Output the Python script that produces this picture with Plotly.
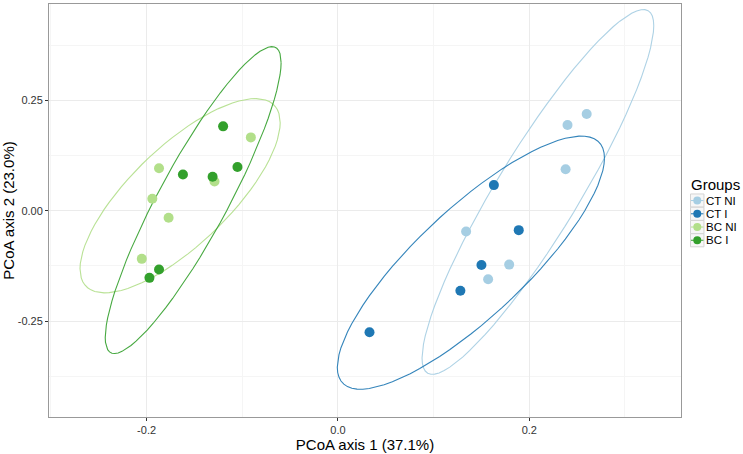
import numpy as np
import plotly.graph_objects as go

# PCoA scores
groups = ["CT NI", "CT I", "BC NI", "BC I"]
colors = ["#A6CEE3", "#1F78B4", "#B2DF8A", "#33A02C"]

ct_ni_x = [0.260, 0.240, 0.238, 0.134, 0.179, 0.157]
ct_ni_y = [0.219, 0.194, 0.094, -0.047, -0.122, -0.155]
ct_i_x = [0.033, 0.163, 0.189, 0.150, 0.128]
ct_i_y = [-0.275, 0.058, -0.044, -0.123, -0.181]
bc_ni_x = [-0.091, -0.187, -0.194, -0.177, -0.129, -0.205]
bc_ni_y = [0.166, 0.096, 0.027, -0.016, 0.066, -0.109]
bc_i_x = [-0.120, -0.162, -0.131, -0.105, -0.187, -0.197]
bc_i_y = [0.191, 0.082, 0.077, 0.099, -0.133, -0.152]

xs = [ct_ni_x, ct_i_x, bc_ni_x, bc_i_x]
ys = [ct_ni_y, ct_i_y, bc_ni_y, bc_i_y]


# same as MASS::cov.trob, which stat_ellipse uses
def cov_trob(x, nu=5, maxit=25, tol=0.01):
    n, p = x.shape
    wt = np.ones(n)
    loc = x.mean(axis=0)
    w = np.sqrt(wt)
    for _ in range(maxit):
        w0 = w
        X = x - loc
        _, d, vt = np.linalg.svd(np.sqrt(w / w.sum())[:, None] * X, full_matrices=False)
        wX = X @ vt.T @ np.diag(1 / d)
        Q = (wX ** 2).sum(axis=1)
        w = wt * (nu + p) / (nu + Q)
        loc = (w[:, None] * x).sum(axis=0) / w.sum()
        if np.all(np.abs(w - w0) < tol):
            break
    X = x - loc
    cov = (np.sqrt(w)[:, None] * X).T @ (np.sqrt(w)[:, None] * X) / wt.sum()
    return loc, cov


def ellipse(x, y, level=0.9, segments=80):
    pts = np.column_stack([x, y])
    center, shape = cov_trob(pts)
    dfd = len(x) - 1
    fq = dfd / 2 * ((1 - level) ** (-2 / dfd) - 1)  # qf(level, 2, dfd)
    radius = np.sqrt(2 * fq)
    ang = np.linspace(0, 2 * np.pi, segments + 1)
    circle = np.column_stack([np.cos(ang), np.sin(ang)])
    chol = np.linalg.cholesky(shape).T
    e = center + radius * circle @ chol
    return e[:, 0], e[:, 1]


W, H = 743, 454
L, R, T, B = 48, 62, 3, 36


def px(x):
    return (x - L) / (W - L - R)


def py(y):
    return (H - B - y) / (H - T - B)


fig = go.Figure()

for g, c, x, y in zip(groups, colors, xs, ys):
    ex, ey = ellipse(x, y)
    fig.add_trace(go.Scatter(
        x=ex, y=ey, mode="lines", line=dict(color=c, width=1.1),
        opacity=0.9, showlegend=False, hoverinfo="skip"
    ))

for g, c, x, y in zip(groups, colors, xs, ys):
    fig.add_trace(go.Scatter(
        x=x, y=y, mode="markers", name=g, showlegend=False,
        marker=dict(color=c, size=10)
    ))

# ggplot-like legend drawn by hand so it fits in the right margin
fig.add_annotation(text="Groups", xref="paper", yref="paper", x=px(690), y=py(184),
                   xanchor="left", yanchor="middle", showarrow=False, borderpad=0,
                   font=dict(size=15, color="black"))
for i, (g, c) in enumerate(zip(groups, colors)):
    cy = 200.5 + i * 13.3
    fig.add_shape(type="rect", xref="paper", yref="paper",
                  x0=px(690.5), x1=px(704), y0=py(cy - 6.6), y1=py(cy + 6.6),
                  line=dict(color="#D4D4D4", width=1), fillcolor="#F7F7F7", layer="above")
    fig.add_shape(type="line", xref="paper", yref="paper",
                  x0=px(691), x1=px(703.5), y0=py(cy), y1=py(cy),
                  line=dict(color=c, width=1), layer="above")
    fig.add_shape(type="circle", xref="paper", yref="paper",
                  x0=px(697.3 - 4), x1=px(697.3 + 4), y0=py(cy - 4), y1=py(cy + 4),
                  line=dict(color=c, width=0), fillcolor=c, layer="above")
    fig.add_annotation(text=g, xref="paper", yref="paper", x=px(705.5), y=py(cy),
                       xanchor="left", yanchor="middle", showarrow=False, borderpad=0,
                       font=dict(size=11.5, color="black"))

axis = dict(
    showline=True, mirror=True, linecolor="#999999", linewidth=1,
    showgrid=True, gridcolor="#EBEBEB", gridwidth=1,
    minor=dict(showgrid=True, gridcolor="#F5F5F5", gridwidth=0.6),
    zeroline=False, ticks="outside", ticklen=3, tickcolor="#333333",
    tickfont=dict(size=11, color="#333333"),
)

fig.update_layout(
    width=W, height=H,
    margin=dict(l=L, r=R, t=T, b=B),
    showlegend=False,
    paper_bgcolor="white", plot_bgcolor="white",
    font=dict(family="Liberation Sans, Arial, sans-serif", color="black"),
    xaxis=dict(axis, range=[-0.302, 0.3586], tickvals=[-0.2, 0.0, 0.2],
               ticktext=["-0.2", "0.0", "0.2"],
               minor=dict(axis["minor"], tickvals=[-0.3, -0.1, 0.1, 0.3]),
               title=dict(text="PCoA axis 1 (37.1%)", font=dict(size=15), standoff=4)),
    yaxis=dict(axis, range=[-0.467, 0.468], tickvals=[-0.25, 0.0, 0.25],
               ticktext=["-0.25", "0.00", "0.25"],
               minor=dict(axis["minor"], tickvals=[-0.375, -0.125, 0.125, 0.375]),
               title=dict(text="PCoA axis 2 (23.0%)", font=dict(size=15), standoff=4)),
)

fig.write_html("out.html", config={"displayModeBar": False},
               post_script="document.body.style.margin='0';")
